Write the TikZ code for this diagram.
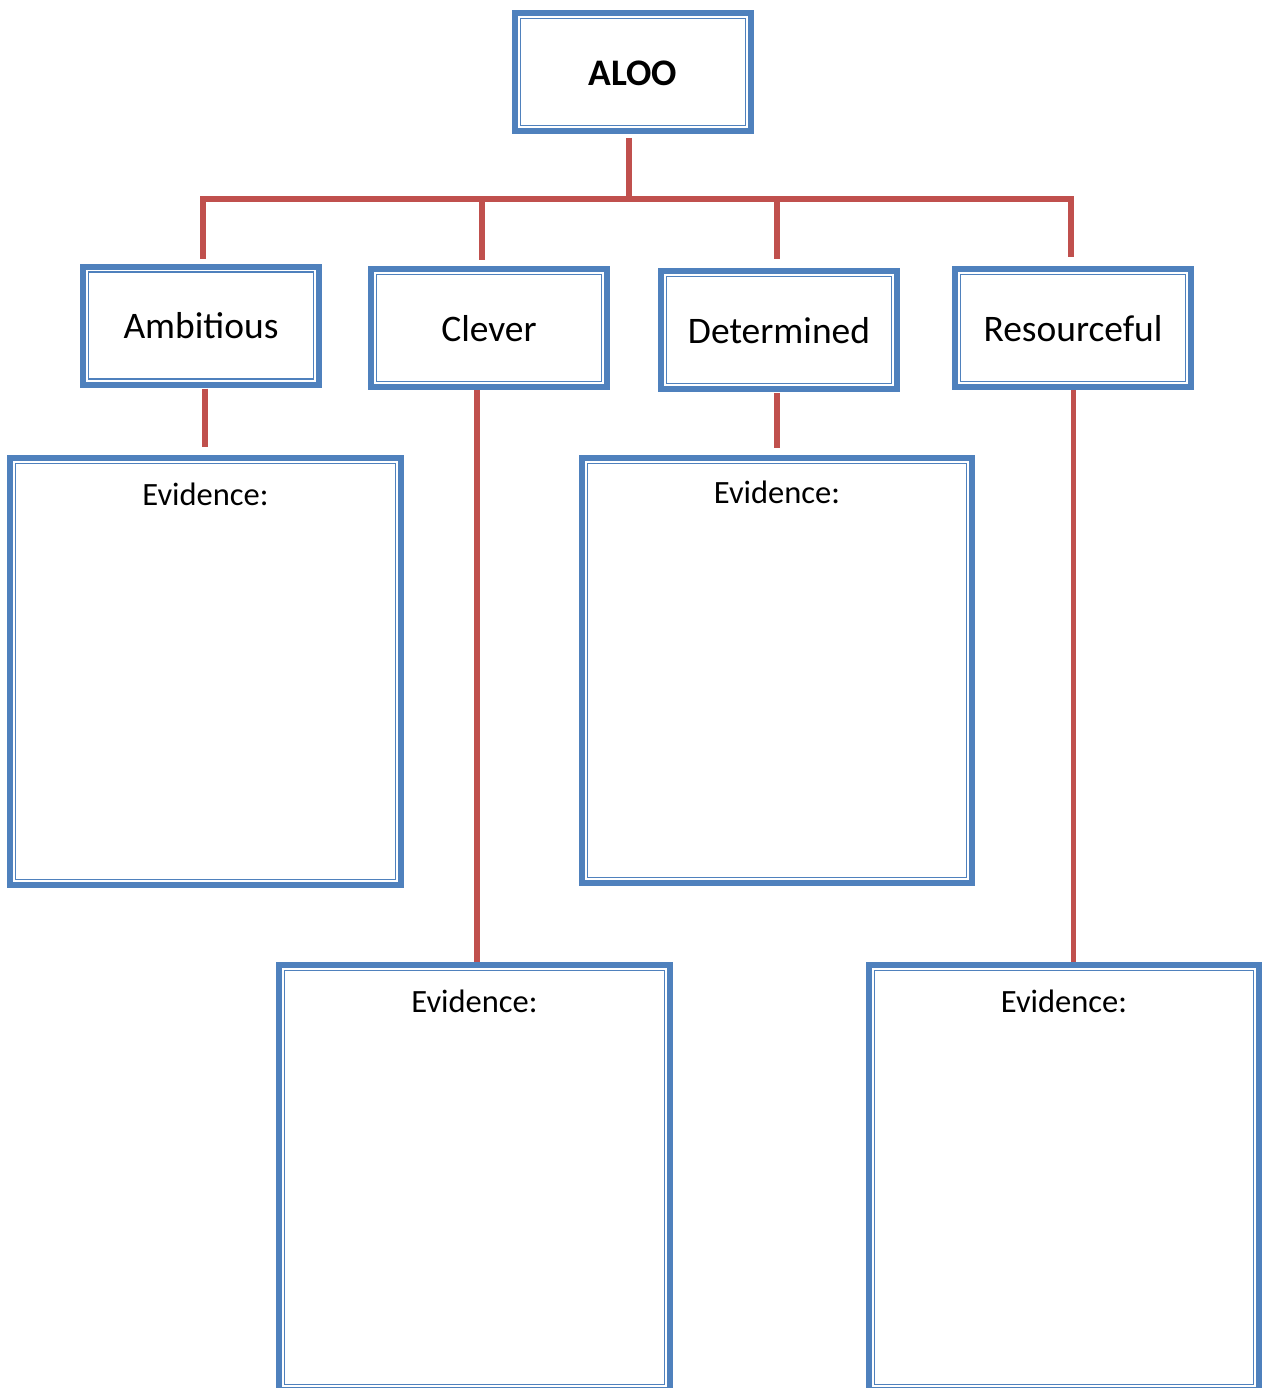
\documentclass[tikz,border=0pt]{standalone}
\usepackage{fontspec}
\setmainfont{Carlito}
\definecolor{bblue}{HTML}{4F81BD}
\definecolor{rred}{HTML}{C0504D}
\tikzset{
  dbox/.style={draw=bblue, line width=6pt, fill=white, inner sep=0pt,
    minimum width=#1, align=center,
    path picture={\draw[bblue, line width=1.2pt]
      ([shift={(5.5pt,-5.5pt)}]path picture bounding box.north west) rectangle
      ([shift={(-5.5pt,5.5pt)}]path picture bounding box.south east);}},
  topbox/.style={dbox=236pt, minimum height=118pt, font=\fontsize{37.5}{40}\selectfont,
    text height=26.6pt, text depth=0pt},
  evbox/.style={dbox=391pt, minimum height=427pt},
  evtext/.style={anchor=base, inner sep=0pt, font=\fontsize{32.5}{36}\selectfont},
  conn/.style={draw=rred, line width=5.5pt, line cap=butt, line join=miter}
}
\begin{document}
\begin{tikzpicture}[x=1pt, y=-1pt]
\useasboundingbox[fill=white] (0,0) rectangle (1262,1388);

% boxes
\node[topbox, font=\bfseries\fontsize{37.5}{40}\selectfont] (aloo) at (633,72) {ALOO};
\node[topbox] (amb) at (201,325.5) {Ambitious};
\node[topbox] (clev) at (489,328) {Clever};
\node[topbox] (det) at (779,330) {Determined};
\node[topbox] (res) at (1073,328) {Resourceful};

\node[evbox] (ev1) at (205.5,671.5) {};
\node[evbox, minimum width=390pt, minimum height=425pt] (ev2) at (777,670.5) {};
\node[evbox, minimum height=425pt] (ev3) at (474.5,1177.5) {};
\node[evbox, minimum width=390pt, minimum height=425pt] (ev4) at (1064,1177.5) {};

\node[evtext] (ev1t) at ([yshift=-50pt]ev1.north) {Evidence:};
\node[evtext] (ev2t) at ([yshift=-48pt]ev2.north) {Evidence:};
\node[evtext] (ev3t) at ([yshift=-50pt]ev3.north) {Evidence:};
\node[evtext] (ev4t) at ([yshift=-50pt]ev4.north) {Evidence:};

% connectors
\coordinate (bus) at (629,199);
\draw[conn] ([xshift=-4pt, yshift=-4pt]aloo.south) -- (bus);
\draw[conn] (bus) -| ([xshift=2pt, yshift=5pt]amb.north);
\draw[conn] (bus) -| ([xshift=-7pt, yshift=6pt]clev.north);
\draw[conn] (bus) -| ([xshift=-2pt, yshift=9pt]det.north);
\draw[conn] (bus) -| ([xshift=-2pt, yshift=9pt]res.north);

\draw[conn] ([xshift=4pt, yshift=-1pt]amb.south) -- ([xshift=-0.5pt, yshift=8pt]ev1.north);
\draw[conn] ([xshift=-12pt]clev.south) -- ([xshift=2.5pt]ev3.north);
\draw[conn] ([xshift=-2pt, yshift=-1pt]det.south) -- ([yshift=7pt]ev2.north);
\draw[conn] ([xshift=0.5pt]res.south) -- ([xshift=9.5pt]ev4.north);
\end{tikzpicture}
\end{document}
